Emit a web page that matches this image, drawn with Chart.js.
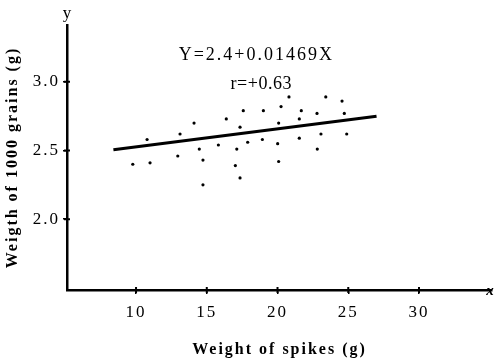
<!DOCTYPE html>
<html lang="en">
<head>
    <meta charset="UTF-8">
    <title>Weight of spikes vs weight of 1000 grains</title>
    <script src="https://cdn.jsdelivr.net/npm/chart.js@4"></script>
    <style>
        html, body { margin: 0; padding: 0; background: #fff; overflow: hidden; }
    </style>
</head>
<body>
    <canvas id="grafico" width="498" height="364"></canvas>

    <script>
        // Observed points
        const spikeWeight = [9.77, 10.99, 10.78, 12.95, 13.11, 14.10, 14.47, 14.73, 14.73, 15.82,
                             16.38, 17.12, 17.02, 17.35, 17.35, 17.58, 17.89, 18.93, 19.00, 20.01,
                             20.08, 20.08, 20.25, 20.81, 21.54, 21.54, 21.68, 22.79, 22.81, 23.07,
                             23.41, 24.56, 24.72, 24.89];
        const grainWeight = [2.40, 2.41, 2.58, 2.46, 2.62, 2.70, 2.51, 2.43, 2.25, 2.54,
                             2.73, 2.51, 2.39, 2.30, 2.67, 2.79, 2.56, 2.58, 2.79, 2.55,
                             2.42, 2.70, 2.82, 2.89, 2.59, 2.73, 2.79, 2.77, 2.51, 2.62,
                             2.89, 2.86, 2.77, 2.62];

        // Regression line ends, as drawn
        const lineX = [8.4, 27.0];
        const lineY = [2.505, 2.75];

        const xTicks = [10, 15, 20, 25, 30];
        const yTicks = [2.0, 2.5, 3.0];

        const equation = 'Y=2.4+0.01469X';
        const corr = 'r=+0.63';

        const serif = '"Liberation Serif", "DejaVu Serif", serif';

        // annotation texts and axis end marks
        const extras = {
            id: 'extras',
            beforeDraw(chart) {
                chart.ctx.letterSpacing = '2px';
            },
            afterDraw(chart) {
                const ctx = chart.ctx;
                const a = chart.chartArea;
                const sx = chart.scales.x, sy = chart.scales.y;
                ctx.save();
                ctx.fillStyle = '#000';
                ctx.textAlign = 'center';
                ctx.textBaseline = 'middle';
                ctx.letterSpacing = '2px';
                ctx.font = '18px ' + serif;
                ctx.fillText(equation, sx.getPixelForValue(18.5), sy.getPixelForValue(3.19));
                ctx.letterSpacing = '0.5px';
                ctx.fillText(corr, sx.getPixelForValue(18.85), sy.getPixelForValue(2.985));
                ctx.letterSpacing = '0px';
                // y label on top of the axis
                ctx.font = '17px ' + serif;
                ctx.fillText('y', a.left, a.top - 11);
                // x mark at the arrow end
                ctx.font = 'bold italic 15px ' + serif;
                ctx.fillText('x', a.right - 2, a.bottom + 1);
                // small tick crosses on the axes
                ctx.lineWidth = 2;
                ctx.strokeStyle = '#000';
                ctx.beginPath();
                xTicks.forEach(v => {
                    const px = sx.getPixelForValue(v);
                    ctx.moveTo(px, a.bottom - 3);
                    ctx.lineTo(px, a.bottom + 3);
                });
                yTicks.forEach(v => {
                    const py = sy.getPixelForValue(v);
                    ctx.moveTo(a.left - 3, py);
                    ctx.lineTo(a.left + 3, py);
                });
                ctx.stroke();
                ctx.restore();
            }
        };

        const ctx = document.getElementById('grafico').getContext('2d');
        const grafico = new Chart(ctx, {
            type: 'scatter',
            data: {
                datasets: [{
                    label: 'Observed',
                    data: spikeWeight.map((x, i) => ({ x: x, y: grainWeight[i] })),
                    backgroundColor: '#000',
                    borderColor: '#000',
                    pointRadius: 1.6,
                    pointBorderWidth: 0
                }, {
                    type: 'line',
                    label: 'Regression',
                    data: lineX.map((x, i) => ({ x: x, y: lineY[i] })),
                    borderColor: '#000',
                    borderWidth: 3,
                    pointRadius: 0,
                    fill: false
                }]
            },
            options: {
                responsive: false,
                animation: false,
                devicePixelRatio: 1,
                layout: { padding: { top: 25, right: 6, left: 0, bottom: 0 } },
                plugins: {
                    legend: { display: false },
                    tooltip: { enabled: false }
                },
                scales: {
                    x: {
                        type: 'linear',
                        min: 5.12,
                        max: 35.16,
                        afterBuildTicks: s => { s.ticks = xTicks.map(v => ({ value: v })); },
                        afterFit: s => { s.height = 74; },
                        border: { display: true, color: '#000', width: 2.5 },
                        grid: { drawOnChartArea: false, color: '#000', lineWidth: 1.5, tickLength: 4 },
                        ticks: { color: '#000', padding: 8, font: { family: serif, size: 17 } },
                        title: {
                            display: true,
                            text: 'Weight of spikes (g)',
                            color: '#000',
                            font: { family: serif, size: 16, weight: 'bold' },
                            padding: { top: 0, bottom: 5 }
                        }
                    },
                    y: {
                        type: 'linear',
                        min: 1.484,
                        max: 3.414,
                        afterBuildTicks: s => { s.ticks = yTicks.map(v => ({ value: v })); },
                        afterFit: s => { s.width = 67; },
                        border: { display: true, color: '#000', width: 2.5 },
                        grid: { drawOnChartArea: false, color: '#000', lineWidth: 1.5, tickLength: 4 },
                        ticks: {
                            color: '#000',
                            padding: 3,
                            font: { family: serif, size: 17 },
                            callback: v => v.toFixed(1)
                        },
                        title: {
                            display: true,
                            text: 'Weigth of 1000 grains (g)',
                            color: '#000',
                            font: { family: serif, size: 16, weight: 'bold' },
                            padding: { top: 3, bottom: 0 }
                        }
                    }
                }
            },
            plugins: [extras]
        });
    </script>
</body>
</html>
